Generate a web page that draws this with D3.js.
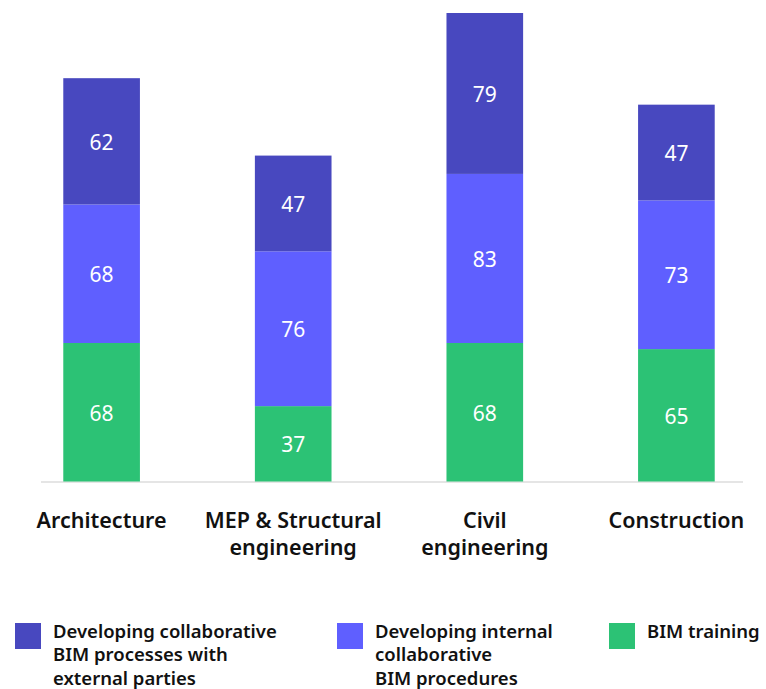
<!DOCTYPE html>
<html><head><meta charset="utf-8">
<script src="https://cdn.jsdelivr.net/npm/d3@7"></script>
<style>body{margin:0;background:#fff;} svg{display:block;}</style>
</head><body>
<svg id="c" width="766" height="689"></svg>
<script>
const categories = [["Architecture"], ["MEP & Structural", "engineering"], ["Civil", "engineering"], ["Construction"]];
const catKeys = ["Architecture", "MEP & Structural engineering", "Civil engineering", "Construction"];
const seriesNames = ["BIM training", "Developing internal collaborative BIM procedures", "Developing collaborative BIM processes with external parties"];
const bimTraining = [68, 37, 68, 65];
const internalProcedures = [68, 76, 83, 73];
const externalProcesses = [62, 47, 79, 47];
const colors = ["#2cc275", "#5f5fff", "#4848bf"];
const legendLines = [["Developing collaborative", "BIM processes with", "external parties"], ["Developing internal", "collaborative", "BIM procedures"], ["BIM training"]];
const legendColorIdx = [2, 1, 0];

const svg = d3.select("#c");
const font = "'Noto Sans', sans-serif";
const rows = catKeys.map((k, i) => ({cat: k, s0: bimTraining[i], s1: internalProcedures[i], s2: externalProcesses[i]}));
const stack = d3.stack().keys(["s0", "s1", "s2"])(rows);

const x = d3.scaleBand().domain(catKeys).range([5.8, 772.2]).paddingInner(0.6).paddingOuter(0.3);
const y = d3.scaleLinear().domain([0, 230]).range([481.5, 13]);

svg.append("line").attr("x1", 41).attr("x2", 743).attr("y1", 482).attr("y2", 482)
  .attr("stroke", "#dddddd").attr("stroke-width", 1.5);

stack.forEach((layer, li) => {
  const g = svg.append("g");
  g.selectAll("rect").data(layer).join("rect")
    .attr("x", d => x(d.data.cat)).attr("width", x.bandwidth())
    .attr("y", d => y(d[1])).attr("height", d => y(d[0]) - y(d[1]))
    .attr("fill", colors[li]);
  g.selectAll("text").data(layer).join("text")
    .attr("x", d => x(d.data.cat) + x.bandwidth() / 2)
    .attr("y", d => (y(d[0]) + y(d[1])) / 2 + 1)
    .attr("dy", "0.36em").attr("text-anchor", "middle")
    .attr("fill", "#fff").attr("font-family", font).attr("font-size", 21)
    .text(d => d[1] - d[0]);
});

categories.forEach((lines, i) => {
  const t = svg.append("text").attr("text-anchor", "middle")
    .attr("font-family", font).attr("font-size", 21.5).attr("font-weight", 600).attr("fill", "#111");
  lines.forEach((l, j) => t.append("tspan").attr("x", x(catKeys[i]) + x.bandwidth() / 2).attr("y", 527.5 + j * 27).text(l));
});

const legendX = [15, 337, 609];
legendLines.forEach((lines, i) => {
  svg.append("rect").attr("x", legendX[i]).attr("y", 623).attr("width", 26).attr("height", 26).attr("fill", colors[legendColorIdx[i]]);
  const t = svg.append("text").attr("font-family", font).attr("font-size", 18.5).attr("font-weight", 600).attr("fill", "#111");
  lines.forEach((l, j) => t.append("tspan").attr("x", legendX[i] + 38).attr("y", 638 + j * 23.3).text(l));
});
</script>
</body></html>
